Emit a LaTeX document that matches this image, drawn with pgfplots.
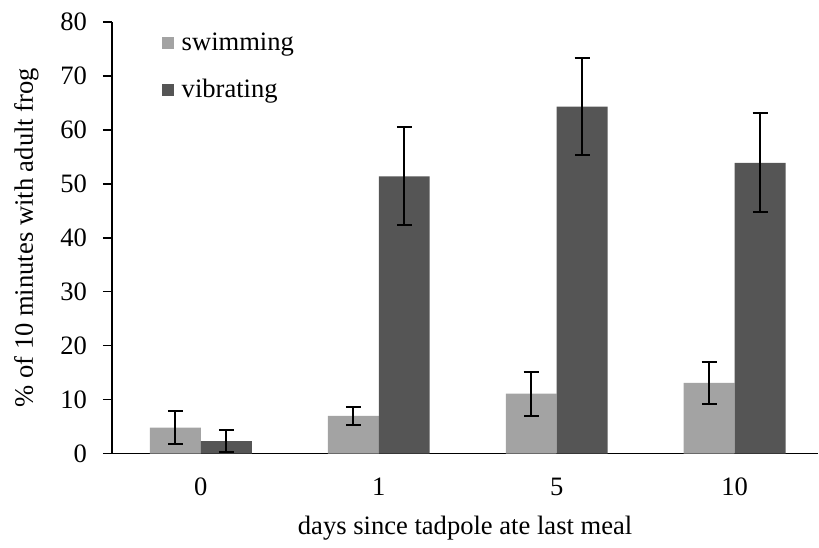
\documentclass[border=0pt]{standalone}
\usepackage{fontspec}
\setmainfont{Liberation Serif}
\usepackage{pgfplots}
\pgfplotsset{compat=1.18}

\definecolor{swimgray}{HTML}{A3A3A3}
\definecolor{vibgray}{HTML}{555555}

\begin{document}
\begin{tikzpicture}[font=\fontsize{13.3}{16}\selectfont]
\begin{axis}[
  name=ax,
  scale only axis,
  width=353.5pt, height=216pt,
  ybar=0pt, bar width=25.5pt,
  xmin=-0.5, xmax=3.47,
  ymin=0, ymax=80,
  ytick={0,10,...,80},
  xtick={0,1,2,3},
  xticklabels={0,1,5,10},
  major x tick style={draw=none},
  extra x ticks={-0.5,0.5,1.5,2.5},
  extra x tick labels={},
  extra x tick style={major tick length=4.5pt, tick style={draw=black, line width=0.75pt}},
  axis lines*=left,
  axis line style={line width=0.75pt, -},
  tick align=outside,
  major tick length=4.5pt,
  tick style={black, line width=0.75pt},
  /pgf/number format/assume math mode=true,
  yticklabel style={xshift=-4.5pt},
  xticklabel style={yshift=-4pt},
  xlabel={days since tadpole ate last meal},
  ylabel={\% of 10 minutes with adult frog},
  xlabel style={yshift=5.5pt},
  ylabel style={yshift=4pt},
  legend style={draw=none, fill=none, at={(0.07,0.985)}, anchor=north west,
    row sep=9pt, inner sep=0pt, font=\fontsize{13.3}{16}\selectfont},
  legend cell align=left,
  legend image code/.code={\fill[#1] (0pt,-3pt) rectangle (6pt,3pt); \path (8pt,0pt);},
  error bars/error bar style={black, line width=1pt},
  error bars/error mark options={rotate=90, black, line width=1pt, mark size=3.75pt},
]
\addplot[fill=swimgray, draw=none,
  error bars/.cd, y dir=both, y explicit]
  coordinates {(0,4.8) +- (0,3.0) (1,7.0) +- (0,1.7) (2,11.1) +- (0,4.1) (3,13.1) +- (0,3.9)};
\addplot[fill=vibgray, draw=none,
  error bars/.cd, y dir=both, y explicit]
  coordinates {(0,2.3) +- (0,2.0) (1,51.4) +- (0,9.1) (2,64.3) +- (0,9.05) (3,53.9) +- (0,9.2)};
\legend{swimming, vibrating}
\end{axis}
\path (ax.north) ++(0,11pt);
\path (ax.south west) ++(-56pt,0pt);
\end{tikzpicture}
\end{document}
